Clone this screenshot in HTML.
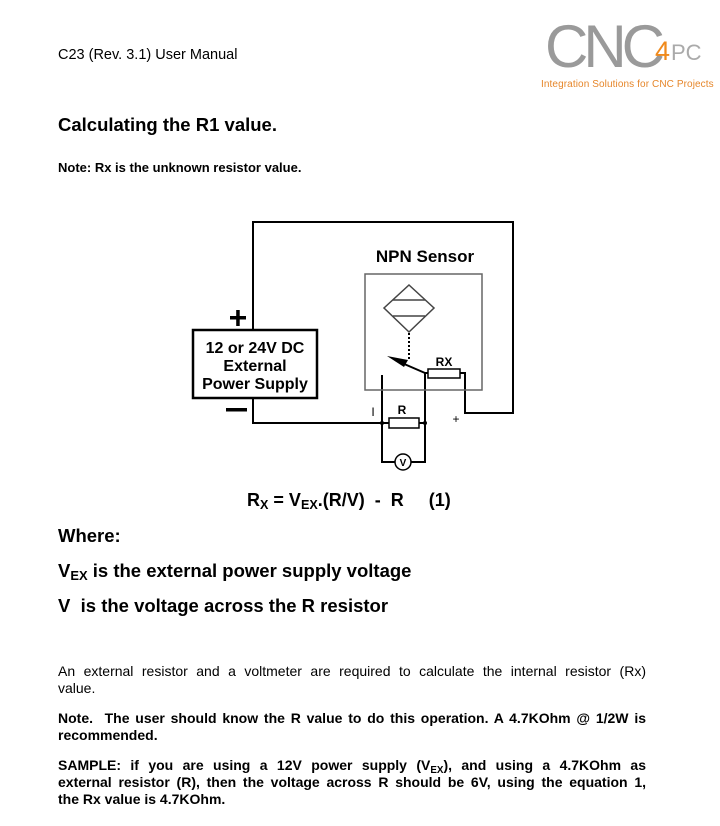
<!DOCTYPE html>
<html><head><meta charset="utf-8"><style>
body{margin:0;width:720px;height:826px;background:#fff;position:relative;font-family:"Liberation Sans",Arial,sans-serif;color:#000;overflow:hidden}
.a{position:absolute;white-space:nowrap}
.l{position:absolute;left:58px;width:588px;font-size:14px;line-height:17px;white-space:nowrap;text-align:justify;text-align-last:justify}
.n{text-align-last:left}
.b{font-weight:bold}
sub{font-size:0.7em;vertical-align:-3px;line-height:0}
</style></head><body>
<div class="a" style="left:58px;top:47px;font-size:14.5px">C23 (Rev. 3.1) User Manual</div>
<div class="a" style="left:545px;top:14px;font-size:60px;color:#9a9a9a;letter-spacing:-5px;line-height:66px">CNC</div>
<div class="a" style="left:655px;top:36px;font-size:27px;color:#f08a1c;line-height:30px">4</div>
<div class="a" style="left:671px;top:40px;font-size:22px;color:#aaa;line-height:26px">PC</div>
<div class="a" style="left:541px;top:79px;font-size:10px;color:#e6862a;letter-spacing:0.1px">Integration Solutions for CNC Projects</div>

<div class="a b" style="left:58px;top:114px;font-size:18.5px">Calculating the R1 value.</div>
<div class="a b" style="left:58px;top:160px;font-size:13px">Note: Rx is the unknown resistor value.</div>

<svg class="a" style="left:0;top:0" width="720" height="500" viewBox="0 0 720 500">
<g fill="none" stroke="#000" stroke-width="2">
<polyline points="253,330 253,222 513,222 513,413 465,413 465,373 460,373"/>
<polyline points="253,398 253,423 389,423"/>
<line x1="419" y1="423" x2="425" y2="423"/>
<polyline points="382,375 382,462 395,462"/>
<polyline points="411,462 425,462 425,372"/>
<rect x="193" y="330" width="124" height="68" stroke-width="2.5"/>
<rect x="389" y="418" width="30" height="10" stroke-width="1.5"/>
<rect x="428" y="369" width="32" height="9" stroke-width="1.5"/>
<circle cx="403" cy="462" r="8" stroke-width="1.5"/>
<line x1="425" y1="373" x2="428" y2="373"/>
</g>
<rect x="365" y="274" width="117" height="116" fill="none" stroke="#666" stroke-width="1.5"/>
<g fill="none" stroke="#444" stroke-width="1.5">
<polygon points="409,285 434,308 409,332 384,308"/>
<line x1="393" y1="300" x2="425" y2="300"/>
<line x1="393" y1="316" x2="425" y2="316"/>
</g>
<line x1="409" y1="333" x2="409" y2="360" stroke="#000" stroke-width="2" stroke-dasharray="2,2"/>
<line x1="395" y1="360" x2="425" y2="373" stroke="#000" stroke-width="2"/>
<polygon points="387,356 408,360 404,367" fill="#000"/>
<circle cx="382" cy="423" r="2" fill="#000"/><circle cx="425" cy="423" r="2" fill="#000"/>
<text x="403" y="466" font-size="10" text-anchor="middle" font-family="Liberation Sans" font-weight="bold">V</text>
<text x="425" y="262" font-size="17" font-weight="bold" text-anchor="middle" font-family="Liberation Sans">NPN Sensor</text>
<text x="255" y="353" font-size="16" font-weight="bold" text-anchor="middle" font-family="Liberation Sans">12 or 24V DC</text>
<text x="255" y="371" font-size="16" font-weight="bold" text-anchor="middle" font-family="Liberation Sans">External</text>
<text x="255" y="389" font-size="16" font-weight="bold" text-anchor="middle" font-family="Liberation Sans">Power Supply</text>
<text x="444" y="366" font-size="12" font-weight="bold" text-anchor="middle" font-family="Liberation Sans">RX</text>
<text x="402" y="414" font-size="12" font-weight="bold" text-anchor="middle" font-family="Liberation Sans">R</text>
<text x="373" y="416" font-size="12" text-anchor="middle" font-family="Liberation Sans">I</text>
<text x="456" y="423" font-size="12" text-anchor="middle" font-family="Liberation Sans">+</text>
<rect x="230" y="316" width="16" height="3.5" fill="#000"/><rect x="236.2" y="310" width="3.5" height="16" fill="#000"/>
<rect x="226" y="408" width="21" height="3.5" fill="#000"/>
</svg>

<div class="a b" style="left:247px;top:490px;font-size:18px">R<sub>X</sub> = V<sub>EX</sub>.(R/V)&nbsp; - &nbsp;R&nbsp;&nbsp;&nbsp;&nbsp; (1)</div>
<div class="a b" style="left:58px;top:525px;font-size:18.5px">Where:</div>
<div class="a b" style="left:58px;top:560px;font-size:18.5px">V<sub>EX</sub> is the external power supply voltage</div>
<div class="a b" style="left:58px;top:595px;font-size:18.5px">V&nbsp; is the voltage across the R resistor</div>

<div class="l" style="top:663px">An external resistor and a voltmeter are required to calculate the internal resistor (Rx)</div>
<div class="l n" style="top:680px">value.</div>
<div class="l b" style="top:710px">Note.&nbsp; The user should know the R value to do this operation. A 4.7KOhm @ 1/2W is</div>
<div class="l b n" style="top:727px">recommended.</div>
<div class="l b" style="top:757px">SAMPLE: if you are using a 12V power supply (V<sub>EX</sub>), and using a 4.7KOhm as</div>
<div class="l b" style="top:774px">external resistor (R), then the voltage across R should be 6V, using the equation 1,</div>
<div class="l b n" style="top:791px">the Rx value is 4.7KOhm.</div>
</body></html>
